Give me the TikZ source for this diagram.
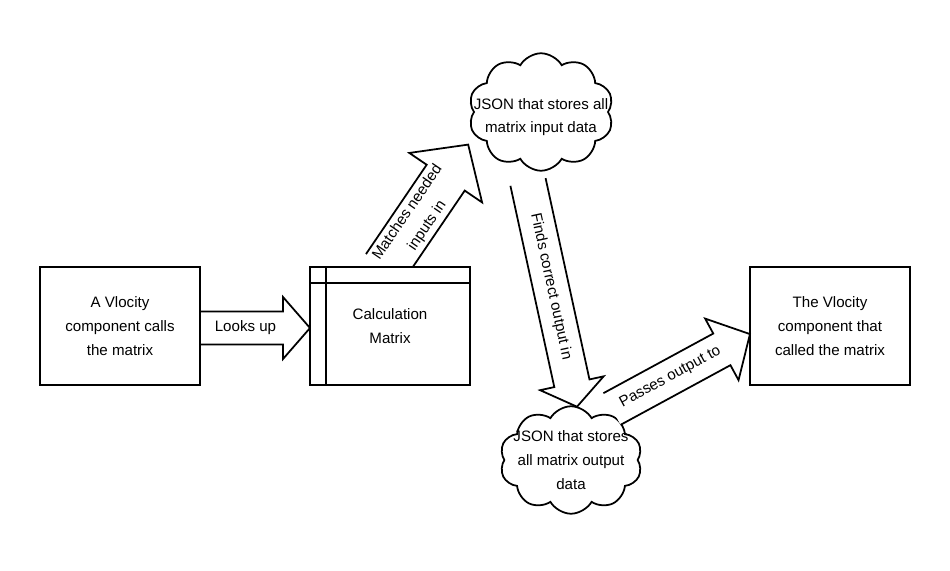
\documentclass[tikz,border=0pt]{standalone}
\usepackage{fontspec}
\setmainfont{Liberation Sans}
\usetikzlibrary{shapes.symbols}
\newcommand{\blkarrow}[9]{%
  \begin{scope}[shift={(#2,#3)},rotate=#4]
    \draw[line width=1pt,fill=white,line join=miter] (0,-#6/2) -- ({#5-#8},-#6/2) -- ({#5-#8},-#7/2) -- (#5,0) -- ({#5-#8},#7/2) -- ({#5-#8},#6/2) -- (0,#6/2);
    \node[lbl,rotate=#4] (#1) at ({(#5-#8)/2+4},0) {#9};
  \end{scope}}
\begin{document}
\begin{tikzpicture}[x=0.02cm,y=-0.02cm,
  every node/.style={font=\fontsize{8.6}{13.5}\selectfont},
  lbl/.style={align=center,inner sep=0pt},
  box/.style={draw,line width=1pt,fill=white,minimum width=3.2cm,minimum height=2.36cm,align=center},
  cld/.style={draw,line width=1pt,fill=white,cloud,cloud puffs=10,cloud puff arc=120,aspect=1.3,inner sep=0pt}]
\useasboundingbox (0,0) rectangle (950,571);
\blkarrow{a1}{200}{328}{0}{110}{33}{62}{27}{Looks up}
\blkarrow{a2}{385}{267}{55.8}{148}{46}{88}{40}{\fontsize{8.6}{15}\selectfont Matches needed\\inputs in}
\node[box] (left) at (120,326) {A Vlocity\\component calls\\the matrix};
\node[box] (calc) at (390,326) {Calculation\\Matrix};
\draw[line width=1pt] (calc.north west) ++(17,0) -- ++(0,118);
\draw[line width=1pt] (calc.north west) ++(0,17) -- ++(160,0);
\node[box] (right) at (830,326) {The Vlocity\\component that\\called the matrix};
\node[cld,minimum width=2.85cm,minimum height=2.15cm] (c2) at (571,460) {};
\node[lbl] (t2) at (c2) {JSON that stores\\all matrix output\\data};
\blkarrow{a4}{612}{409}{28.5}{157}{36}{70}{32}{Passes output to}
\blkarrow{a3}{528}{182}{-77.7}{230}{36}{65}{24}{Finds correct output in}
\node[cld,minimum width=2.9cm,minimum height=2.35cm] (c1) at (541,112) {};
\node[lbl] (t1) at (541,117) {JSON that stores all\\matrix input data};
\end{tikzpicture}
\end{document}
